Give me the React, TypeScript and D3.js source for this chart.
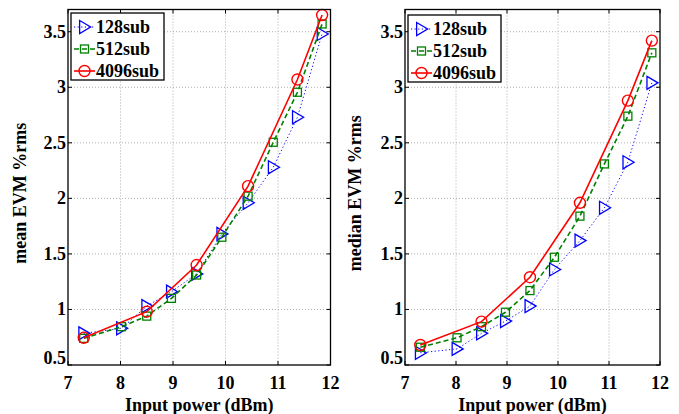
import React from "react";
import * as d3 from "d3";

const xPower = [7.3, 8.02, 8.5, 8.97, 9.45, 9.93, 10.43, 10.91, 11.37, 11.84];
const xPower4096 = [7.3, 8.5, 9.45, 10.43, 11.37, 11.84];

const mean128 = [0.785, 0.83, 1.03, 1.16, 1.32, 1.68, 1.96, 2.28, 2.73, 3.48];
const mean512 = [0.74, 0.845, 0.94, 1.1, 1.31, 1.65, 2.02, 2.505, 2.955, 3.57];
const mean4096 = [0.745, 0.98, 1.4, 2.11, 3.07, 3.65];

const median128 = [0.61, 0.645, 0.785, 0.895, 1.03, 1.36, 1.62, 1.915, 2.325, 3.04];
const median512 = [0.66, 0.745, 0.845, 0.975, 1.17, 1.47, 1.84, 2.31, 2.74, 3.31];
const median4096 = [0.68, 0.89, 1.29, 1.96, 2.88, 3.42];

const seriesNames = ["128sub", "512sub", "4096sub"];
const xTicks = [7, 8, 9, 10, 11, 12];
const yTicks = [0.5, 1, 1.5, 2, 2.5, 3, 3.5];
const xLabel = "Input power (dBm)";

const FONT = "'Liberation Serif', 'Times New Roman', Times, serif";
const FS = 18;
const COLORS = ["#0000ff", "#008000", "#ff0000"];

type Panel = {
  left: number;
  right: number;
  yLabel: string;
  yLabelX: number;
  values: number[][];
  legendX: number;
  legendY: number;
};

function Marker({ kind, x, y, color }: { kind: number; x: number; y: number; color: string }) {
  if (kind === 0) {
    const s = 6.5;
    return (
      <path
        d={`M${x - s * 0.75},${y - s} L${x + s * 0.95},${y} L${x - s * 0.75},${y + s} Z`}
        fill="none"
        stroke={color}
        strokeWidth={1.3}
      />
    );
  }
  if (kind === 1) {
    return <rect x={x - 4} y={y - 4} width={8} height={8} fill="none" stroke={color} strokeWidth={1.3} />;
  }
  return <circle cx={x} cy={y} r={5.5} fill="none" stroke={color} strokeWidth={1.4} />;
}

function PlotPanel({ p }: { p: Panel }) {
  const top = 9.5;
  const bottom = 365;
  const x = d3.scaleLinear().domain([7, 12]).range([p.left, p.right]);
  const y = d3.scaleLinear().domain([0.5, 3.7]).range([bottom, top]);
  const xsets = [xPower, xPower, xPower4096];
  const dashes = ["1.2,2.4", "5,3", undefined];
  const widths = [1, 1.6, 1.6];
  const line = d3.line<[number, number]>().x((d) => x(d[0])).y((d) => y(d[1]));
  const cx = (p.left + p.right) / 2;
  return (
    <g>
      {xTicks.slice(1, -1).map((t) => (
        <line key={"gx" + t} x1={x(t)} x2={x(t)} y1={top} y2={bottom} stroke="#999" strokeWidth={0.8} strokeDasharray="1,2" />
      ))}
      {yTicks.slice(1).map((t) => (
        <line key={"gy" + t} x1={p.left} x2={p.right} y1={y(t)} y2={y(t)} stroke="#999" strokeWidth={0.8} strokeDasharray="1,2" />
      ))}
      {p.values.map((vals, i) => {
        const pts: [number, number][] = vals.map((v, j) => [xsets[i][j], v]);
        return (
          <g key={"s" + i}>
            <path d={line(pts) || ""} fill="none" stroke={COLORS[i]} strokeWidth={widths[i]} strokeDasharray={dashes[i]} />
            {pts.map((d, j) => (
              <Marker key={j} kind={i} x={x(d[0])} y={y(d[1])} color={COLORS[i]} />
            ))}
          </g>
        );
      })}
      <rect x={p.left} y={top} width={p.right - p.left} height={bottom - top} fill="none" stroke="#000" strokeWidth={1.3} />
      {xTicks.map((t) => (
        <g key={"tx" + t}>
          <line x1={x(t)} x2={x(t)} y1={bottom} y2={bottom - 4} stroke="#000" />
          <line x1={x(t)} x2={x(t)} y1={top} y2={top + 4} stroke="#000" />
          <text x={x(t)} y={389} textAnchor="middle" fontFamily={FONT} fontWeight="bold" fontSize={FS}>
            {t}
          </text>
        </g>
      ))}
      {yTicks.map((t) => (
        <g key={"ty" + t}>
          <line x1={p.left} x2={p.left + 4} y1={y(t)} y2={y(t)} stroke="#000" />
          <line x1={p.right} x2={p.right - 4} y1={y(t)} y2={y(t)} stroke="#000" />
          <text
            x={p.left - 2}
            y={t === 0.5 ? y(t) - 1 : y(t) + 6}
            textAnchor="end"
            fontFamily={FONT}
            fontWeight="bold"
            fontSize={FS}
          >
            {t}
          </text>
        </g>
      ))}
      <text x={cx} y={411} textAnchor="middle" fontFamily={FONT} fontWeight="bold" fontSize={FS}>
        {xLabel}
      </text>
      <text
        transform={`translate(${p.yLabelX},${(top + bottom) / 2 + 6}) rotate(-90)`}
        textAnchor="middle"
        fontFamily={FONT}
        fontWeight="bold"
        fontSize={FS}
      >
        {p.yLabel}
      </text>
      <g>
        <rect x={p.legendX} y={p.legendY} width={93} height={67} fill="#fff" stroke="#000" strokeWidth={1.3} />
        {seriesNames.map((name, i) => {
          const ly = p.legendY + 14 + i * 22;
          return (
            <g key={name}>
              <line
                x1={p.legendX + 3}
                x2={p.legendX + 24}
                y1={ly}
                y2={ly}
                stroke={COLORS[i]}
                strokeWidth={widths[i]}
                strokeDasharray={dashes[i]}
              />
              <Marker kind={i} x={p.legendX + 13.5} y={ly} color={COLORS[i]} />
              <text x={p.legendX + 25} y={ly + 6} fontFamily={FONT} fontWeight="bold" fontSize={FS}>
                {name}
              </text>
            </g>
          );
        })}
      </g>
    </g>
  );
}

export default function App() {
  const panels: Panel[] = [
    {
      left: 68,
      right: 330.5,
      yLabel: "mean EVM %rms",
      yLabelX: 26,
      values: [mean128, mean512, mean4096],
      legendX: 71,
      legendY: 13,
    },
    {
      left: 405,
      right: 660,
      yLabel: "median EVM %rms",
      yLabelX: 361,
      values: [median128, median512, median4096],
      legendX: 408,
      legendY: 15,
    },
  ];
  return (
    <svg width={679} height={414} style={{ position: "absolute", left: 0, top: 0, background: "#fff" }}>
      <rect width={679} height={414} fill="#fff" />
      {panels.map((p, i) => (
        <PlotPanel key={i} p={p} />
      ))}
    </svg>
  );
}
